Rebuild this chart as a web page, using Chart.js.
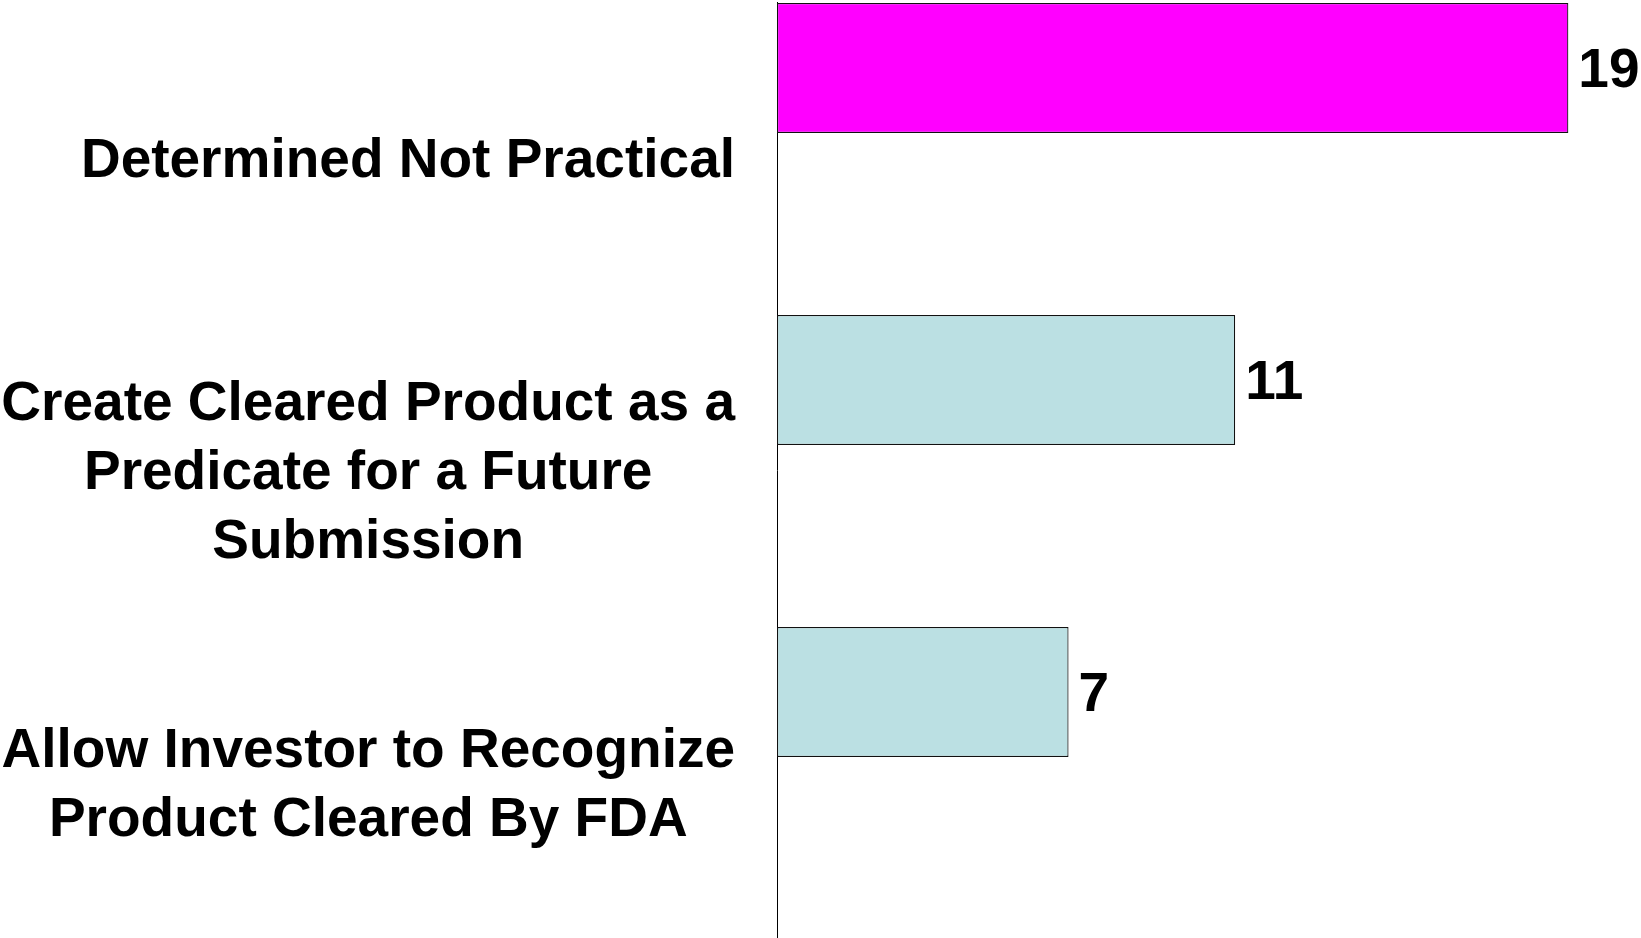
<!DOCTYPE html>
<html>
<head>
<meta charset="utf-8">
<script src="https://cdn.jsdelivr.net/npm/chart.js@4/dist/chart.umd.min.js"></script>
<style>
    html, body { margin: 0; padding: 0; background: #fff; }
    #wrap { width: 1641px; height: 938px; position: relative; }
</style>
</head>
<body>
<div id="wrap"><canvas id="reasons"></canvas></div>
<script>
    // categories (one array of lines per bar, as in the slide)
    const categories = [
        ['Determined Not Practical'],
        ['Create Cleared Product as a', 'Predicate for a Future', 'Submission'],
        ['Allow Investor to Recognize', 'Product Cleared By FDA']
    ];
    // number of responses
    const counts = [19, 11, 7];
    // empty second series (keeps the bars in the upper half of each row)
    const spacerSeries = [null, null, null];

    const FONT = 'bold 55px "Liberation Sans", Arial, sans-serif';
    const LINE_H = 69;

    // category labels: block right-aligned to the axis, lines centred inside the block
    const labelPlugin = {
        id: 'blockLabels',
        afterDraw(chart) {
            const ctx = chart.ctx;
            const yScale = chart.scales.y;
            const right = chart.chartArea.left - 42;
            ctx.save();
            ctx.font = FONT;
            ctx.fillStyle = '#000';
            ctx.textAlign = 'center';
            ctx.textBaseline = 'middle';
            categories.forEach((lines, i) => {
                const y = yScale.getPixelForValue(i) + 4;
                let widest = 0;
                lines.forEach(l => { widest = Math.max(widest, ctx.measureText(l).width); });
                const cx = right - widest / 2;
                lines.forEach((l, j) => {
                    ctx.fillText(l, cx, y + (j - (lines.length - 1) / 2) * LINE_H);
                });
            });

            // value labels at the end of each bar
            ctx.textAlign = 'left';
            chart.getDatasetMeta(0).data.forEach((bar, i) => {
                ctx.fillText(String(counts[i]), bar.x + 10, bar.y + 4);
            });
            ctx.restore();
        }
    };

    new Chart(document.getElementById('reasons'), {
        type: 'bar',
        data: {
            labels: categories.map(l => l.join(' ')),
            datasets: [
                {
                    data: counts,
                    backgroundColor: c => c.dataIndex === 0 ? '#FF00FF' : '#BBE0E3',
                    borderColor: '#111',
                    borderWidth: 1.2,
                    borderSkipped: false,
                    categoryPercentage: 1.1538,
                    barPercentage: 0.7222
                },
                {
                    data: spacerSeries,
                    backgroundColor: 'rgba(0,0,0,0)',
                    categoryPercentage: 1.1538,
                    barPercentage: 0.7222
                }
            ]
        },
        options: {
            indexAxis: 'y',
            responsive: true,
            maintainAspectRatio: false,
            animation: false,
            layout: { padding: { left: 777, right: 31, top: 2, bottom: 0 } },
            plugins: {
                legend: { display: false },
                tooltip: { enabled: false }
            },
            scales: {
                x: { display: false, min: 0, max: 20 },
                y: {
                    grid: { display: false, drawTicks: false },
                    ticks: { display: false },
                    border: { display: true, color: '#000', width: 1 }
                }
            }
        },
        plugins: [labelPlugin]
    });
</script>
</body>
</html>
